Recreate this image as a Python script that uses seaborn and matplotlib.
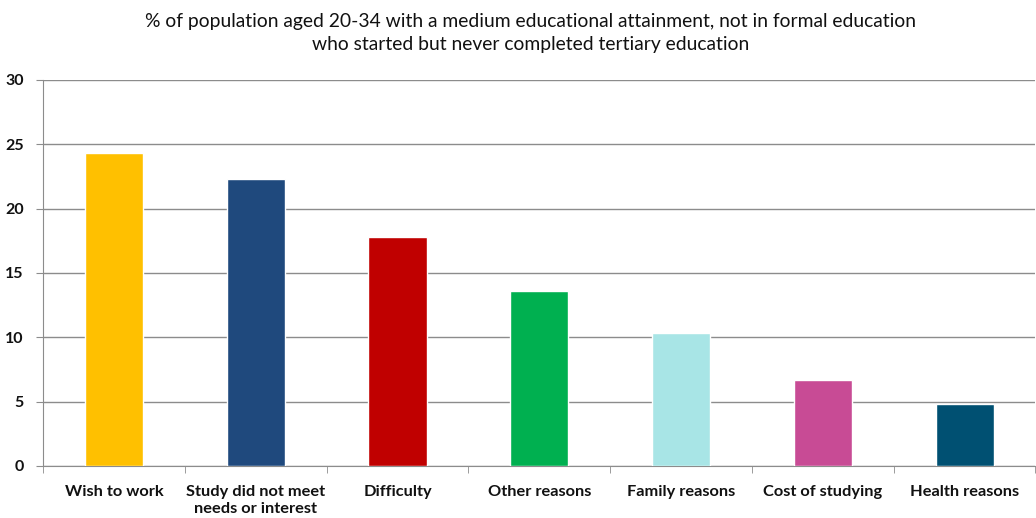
import numpy as np
import pandas as pd
import matplotlib.pyplot as plt
import seaborn as sns

reasons = ["Wish to work", "Study did not meet\nneeds or interest", "Difficulty",
           "Other reasons", "Family reasons", "Cost of studying", "Health reasons"]
share = [24.3, 22.3, 17.8, 13.6, 10.3, 6.7, 4.8]
colors = ["#FFC000", "#1F497D", "#C00000", "#00B050", "#A8E5E6", "#C84B95", "#005072"]

sns.set_style("white")
plt.rcParams['font.family'] = ['Lato', 'DejaVu Sans']

df = pd.DataFrame({"reason": reasons, "share": share})

fig = plt.figure(figsize=(10.36, 5.18), dpi=100)
ax = fig.add_axes([0.0415, 0.1004, 0.958, 0.7452])

sns.barplot(data=df, x="reason", y="share", hue="reason", palette=colors,
            width=0.41, legend=False, ax=ax, saturation=1, zorder=3)

ax.set_ylim(0, 30)
ax.set_xlim(-0.5, len(reasons) - 0.5)
ax.set_yticks(np.arange(0, 31, 5))
ax.yaxis.grid(True, color="#8c8c8c", linewidth=1, zorder=0)
ax.set_axisbelow(True)
ax.set_xlabel("")
ax.set_ylabel("")

for s in ["top", "right"]:
    ax.spines[s].set_visible(False)
ax.spines["left"].set_color("#8c8c8c")
ax.spines["bottom"].set_color("#8c8c8c")

ax.tick_params(axis="y", left=True, length=5, color="#8c8c8c", labelsize=11.5, pad=9)
ax.tick_params(axis="x", which="major", length=0, labelsize=11.8, pad=14)
ax.set_xticks(np.arange(-0.5, len(reasons), 1), minor=True)
ax.tick_params(axis="x", which="minor", bottom=True, length=5, color="#8c8c8c")
for lab in ax.get_xticklabels() + ax.get_yticklabels():
    lab.set_fontweight("bold")
    lab.set_color("#111111")

fig.suptitle("% of population aged 20-34 with a medium educational attainment, not in formal education\n"
             "who started but never completed tertiary education",
             x=0.512, y=0.975, fontsize=13.9, linespacing=1.45, color="#111111")

plt.savefig("out.png", dpi=100)
